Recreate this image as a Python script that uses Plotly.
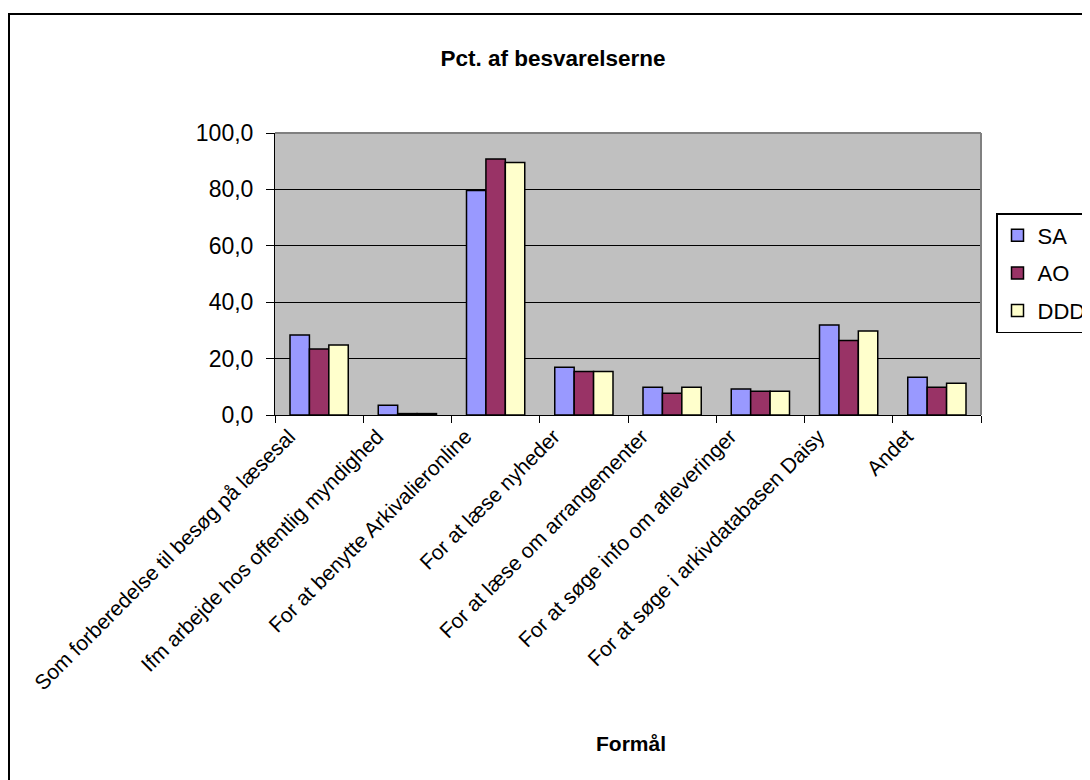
import plotly.graph_objects as go

categories = [
    "Som forberedelse til besøg på læsesal",
    "Ifm arbejde hos offentlig myndighed",
    "For at benytte Arkivalieronline",
    "For at læse nyheder",
    "For at læse om arrangementer",
    "For at søge info om afleveringer",
    "For at søge i arkivdatabasen Daisy",
    "Andet",
]
sa = [28.4, 3.5, 79.6, 16.9, 9.8, 9.2, 31.9, 13.4]
ao = [23.4, 0.5, 90.8, 15.4, 7.7, 8.4, 26.4, 9.8]
ddd = [24.8, 0.5, 89.5, 15.4, 9.8, 8.4, 29.8, 11.3]
series_names = ["SA", "AO", "DDD"]
series_colors = ["#9999FF", "#993366", "#FFFFCC"]
y_ticks = [0, 20, 40, 60, 80, 100]

OFF = 8  # page body margin
W, H = 1090 - OFF, 780 - OFF
# plot area in screenshot pixels
L, R, T, B = 275, 981, 133, 415
pw, ph = R - L, B - T


def px_x(x):
    return (x - L) / pw


def px_y(y):
    return (B - y) / ph


FONT = "Liberation Sans, Arial, sans-serif"

fig = go.Figure()
for name, vals, col in zip(series_names, [sa, ao, ddd], series_colors):
    fig.add_trace(go.Bar(
        x=categories, y=vals, name=name, legendgroup=name,
        marker=dict(color=col, line=dict(color="black", width=1.5)),
    ))

fig.update_layout(
    width=W, height=H,
    margin=dict(l=L - OFF, r=W - (R - OFF), t=T - OFF, b=H - (B - OFF), autoexpand=False),
    paper_bgcolor="white",
    plot_bgcolor="#C0C0C0",
    barmode="group",
    bargap=0.34,
    bargroupgap=0,
    separators=",.",
    font=dict(family=FONT, size=20, color="black"),
    title=dict(
        text="<b>Pct. af besvarelserne</b>",
        xref="container", yref="container",
        x=(553 - OFF) / W, y=1 - (58 - OFF) / H, xanchor="center", yanchor="middle",
        font=dict(family=FONT, size=22.5, color="black"),
    ),
    showlegend=True,
    legend=dict(
        x=px_x(996), y=px_y(213), xanchor="left", yanchor="top",
        bordercolor="black", borderwidth=1.5, bgcolor="white",
        font=dict(family=FONT, size=22, color="black"),
        tracegroupgap=6, itemwidth=30,
    ),
)

fig.update_xaxes(
    type="category",
    tickangle=-45,
    ticks="outside", ticklen=7, tickcolor="black", tickwidth=1,
    tickson="boundaries",
    ticklabelshift=-30,
    showline=True, linecolor="black", linewidth=1,
    showgrid=False,
    tickfont=dict(family=FONT, size=21, color="black"),
    automargin=False,
)
fig.update_yaxes(
    range=[0, 100],
    tickvals=y_ticks,
    tickformat=".1f",
    ticks="outside", ticklen=8, tickcolor="black", tickwidth=1,
    ticklabelstandoff=8,
    showline=True, linecolor="black", linewidth=1,
    showgrid=True, gridcolor="black", gridwidth=1,
    zeroline=False,
    tickfont=dict(family=FONT, size=23, color="black"),
    automargin=False,
)

# gray top/right plot border
fig.add_shape(type="line", xref="paper", yref="paper", x0=0, x1=1, y0=1, y1=1,
              line=dict(color="#808080", width=2))
fig.add_shape(type="line", xref="paper", yref="paper", x0=1, x1=1, y0=0, y1=1,
              line=dict(color="#808080", width=2))

# outer chart frame
fig.add_shape(type="rect", xref="paper", yref="paper",
              x0=px_x(9), x1=px_x(1200), y0=px_y(900), y1=px_y(14),
              line=dict(color="black", width=2), fillcolor="rgba(0,0,0,0)")

fig.add_annotation(
    text="<b>Formål</b>", xref="paper", yref="paper",
    x=px_x(631), y=px_y(743), xanchor="center", yanchor="middle",
    showarrow=False, font=dict(family=FONT, size=21, color="black"),
)

fig.write_html("out.html")
